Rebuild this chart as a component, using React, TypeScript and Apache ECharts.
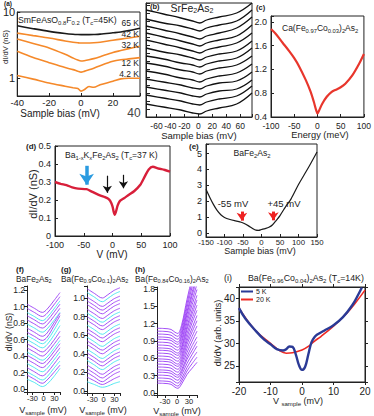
import React, { useEffect, useRef } from 'react';
import * as echarts from 'echarts';

const FONT = "'Liberation Sans', Arial, sans-serif";
const INK = '#222';
const ORANGE = '#f5892a';
const PURPLE = '#9a3cf5';
const CYAN = '#3fe3ee';

// (a) SmFeAsO0.8F0.2
const aBias = [-40, -30, -20, -10, -5, -2, 0, 2, 5, 8, 12, 20, 25, 30, 37];
const aLabels = ['65 K', '42 K', '32 K', '12 K', '4.2 K'];
const a65 = [6.2, 5.6, 5.1, 4.75, 4.62, 4.57, 4.55, 4.55, 4.56, 4.58, 4.63, 4.85, 5.0, 5.25, 5.7];
const a42 = [4.8, 4.4, 4.05, 3.65, 3.5, 3.43, 3.4, 3.4, 3.41, 3.43, 3.5, 3.75, 3.9, 4.05, 4.3];
const a32 = [3.9, 3.35, 2.87, 2.3, 2.02, 1.88, 1.82, 1.84, 1.9, 1.98, 2.12, 2.45, 2.62, 2.8, 3.05];
const a12 = [2.55, 2.05, 1.72, 1.45, 1.35, 1.28, 1.24, 1.27, 1.34, 1.42, 1.55, 1.8, 1.9, 1.96, 2.05];
const a4 = [1.1, 0.97, 0.85, 0.76, 0.72, 0.7, 0.64, 0.67, 0.75, 0.73, 0.8, 0.9, 0.98, 1.0, 1.0];

// (b) SrFe2As2 (offset curves)
const bBias = [-75, -50, -25, -8, 2, 12, 30, 55, 77];
const bCurves = [
  [107, 103, 99, 96, 94, 97, 100, 104, 114],
  [98, 94, 91, 88, 86, 89, 92, 96, 107],
  [91, 87, 83, 80, 78, 81, 84, 89, 100],
  [84, 80, 76, 73, 71, 74, 77, 81, 92],
  [77, 73, 69, 66, 64, 67, 70, 74, 84],
  [69, 65, 62, 59, 57, 60, 63, 66, 76],
  [61, 58, 54, 52, 50, 53, 56, 59, 69],
  [54, 51, 47, 45, 43, 46, 49, 52, 61],
  [46, 43, 39, 37, 35, 38, 41, 44, 53],
  [38, 35, 32, 29, 28, 31, 34, 36, 45],
  [30, 27, 24, 21, 20, 23, 26, 28, 37],
  [22, 19, 16, 13, 12, 15, 18, 21, 31],
  [13, 10, 7, 4, 3, 6, 9, 13, 24],
];

// (c) Ca(Fe0.97Co0.03)2As2
const cEnergy = [-100, -90, -75, -60, -50, -40, -25, -15, -8, -3, 0, 3, 10, 20, 30, 40, 50, 60, 75, 90, 100];
const cValues = [1.88, 1.8, 1.65, 1.5, 1.39, 1.26, 1.02, 0.83, 0.66, 0.52, 0.46, 0.5, 0.62, 0.74, 0.82, 0.86, 0.9, 0.96, 1.1, 1.3, 1.46];

// (d) Ba1-xKxFe2As2
const dV = [-100, -90, -80, -70, -60, -45, -35, -25, -15, -8, -4, 0, 2, 4, 6, 9, 13, 20, 28, 38, 48, 56, 63, 70, 80, 90, 100];
const dValues = [0.3, 0.29, 0.283, 0.27, 0.263, 0.26, 0.245, 0.23, 0.218, 0.208, 0.195, 0.165, 0.135, 0.118, 0.135, 0.17, 0.195, 0.21, 0.228, 0.25, 0.283, 0.33, 0.37, 0.385, 0.375, 0.368, 0.358];

// (e) BaFe2As2
const eBias = [-150, -140, -130, -120, -110, -100, -85, -70, -55, -48, -35, -25, -15, -8, 0, 10, 20, 30, 40, 50, 65, 80, 100, 115, 130, 150];
const eValues = [2.75, 2.25, 1.8, 1.42, 1.15, 0.98, 0.85, 0.76, 0.68, 0.62, 0.45, 0.3, 0.18, 0.17, 0.22, 0.28, 0.36, 0.52, 0.8, 1.1, 1.65, 2.15, 3.05, 3.65, 4.25, 5.1];

// (f) BaFe2As2 stacked
const fBias = [-45, -25, -3, 10, 28, 45];
const fCurves = [
  [1.03, 0.98, 0.93, 0.97, 1.07, 1.17],
  [0.98, 0.93, 0.88, 0.92, 1.02, 1.12],
  [0.93, 0.88, 0.83, 0.87, 0.97, 1.07],
  [0.89, 0.84, 0.79, 0.83, 0.93, 1.03],
  [0.84, 0.79, 0.74, 0.78, 0.88, 0.98],
  [0.79, 0.74, 0.69, 0.73, 0.83, 0.93],
  [0.74, 0.69, 0.64, 0.68, 0.8, 0.92],
  [0.69, 0.64, 0.59, 0.63, 0.76, 0.89],
  [0.65, 0.6, 0.55, 0.59, 0.71, 0.84],
  [0.6, 0.55, 0.5, 0.54, 0.65, 0.77],
  [0.55, 0.5, 0.45, 0.49, 0.59, 0.7],
  [0.5, 0.45, 0.4, 0.44, 0.54, 0.64],
  [0.45, 0.4, 0.35, 0.39, 0.49, 0.59],
  [0.41, 0.36, 0.31, 0.35, 0.45, 0.55],
  [0.36, 0.31, 0.26, 0.3, 0.4, 0.5],
  [0.31, 0.26, 0.21, 0.25, 0.35, 0.45],
  [0.26, 0.21, 0.16, 0.2, 0.3, 0.4],
  [0.21, 0.16, 0.11, 0.15, 0.25, 0.34],
  [0.17, 0.12, 0.07, 0.11, 0.2, 0.29],
  [0.12, 0.08, 0.03, 0.06, 0.15, 0.25],
];
const fColors = ['p', 'p', 'c', 'p', 'p', 'c', 'p', 'p', 'c', 'c', 'p', 'p', 'c', 'p', 'p', 'c', 'p', 'c', 'p', 'c'];

// (g) Ba(Fe0.9Co0.1)2As2 stacked
const gBias = [-45, -25, -3, 10, 28, 45];
const gCurves = [
  [1.1, 1.05, 1.0, 1.03, 1.08, 1.11],
  [1.06, 1.01, 0.96, 0.99, 1.04, 1.07],
  [1.01, 0.96, 0.91, 0.94, 0.99, 1.02],
  [0.97, 0.92, 0.87, 0.9, 0.95, 0.98],
  [0.93, 0.88, 0.83, 0.86, 0.91, 0.94],
  [0.88, 0.83, 0.78, 0.81, 0.86, 0.89],
  [0.84, 0.79, 0.74, 0.77, 0.82, 0.85],
  [0.8, 0.75, 0.7, 0.73, 0.78, 0.81],
  [0.76, 0.71, 0.66, 0.69, 0.74, 0.77],
  [0.71, 0.66, 0.61, 0.64, 0.69, 0.72],
  [0.67, 0.62, 0.57, 0.6, 0.65, 0.68],
  [0.63, 0.58, 0.53, 0.56, 0.61, 0.64],
  [0.58, 0.53, 0.48, 0.51, 0.56, 0.59],
  [0.54, 0.49, 0.44, 0.47, 0.52, 0.55],
  [0.5, 0.45, 0.4, 0.43, 0.48, 0.51],
  [0.45, 0.4, 0.35, 0.38, 0.43, 0.46],
  [0.41, 0.36, 0.31, 0.34, 0.39, 0.42],
  [0.37, 0.32, 0.27, 0.3, 0.35, 0.38],
  [0.33, 0.28, 0.23, 0.26, 0.31, 0.34],
  [0.28, 0.23, 0.18, 0.21, 0.26, 0.29],
  [0.24, 0.19, 0.14, 0.17, 0.22, 0.25],
  [0.2, 0.15, 0.1, 0.13, 0.18, 0.21],
  [0.15, 0.11, 0.07, 0.09, 0.13, 0.16],
  [0.1, 0.07, 0.04, 0.05, 0.08, 0.1],
];
const gColors = ['p', 'c', 'p', 'p', 'p', 'p', 'c', 'p', 'p', 'c', 'p', 'p', 'c', 'p', 'p', 'c', 'p', 'p', 'c', 'p', 'p', 'p', 'p', 'c'];

// (h) Ba(Fe0.84Co0.16)2As2 stacked
const hBias = [-50, -30, -15, -5, 2, 12, 25, 38, 50];
const hCurves = [
  [1.12, 1.115, 1.1, 1.05, 1.03, 1.19, 1.62, 2.0, 2.33],
  [1.07, 1.065, 1.05, 1.0, 0.98, 1.14, 1.55, 1.92, 2.24],
  [1.02, 1.015, 1.0, 0.95, 0.93, 1.08, 1.48, 1.84, 2.14],
  [0.97, 0.965, 0.95, 0.9, 0.88, 1.03, 1.41, 1.75, 2.05],
  [0.93, 0.925, 0.91, 0.86, 0.84, 0.99, 1.36, 1.69, 1.98],
  [0.88, 0.875, 0.86, 0.81, 0.79, 0.93, 1.29, 1.61, 1.88],
  [0.83, 0.825, 0.81, 0.76, 0.74, 0.88, 1.22, 1.53, 1.79],
  [0.78, 0.775, 0.76, 0.71, 0.69, 0.82, 1.15, 1.44, 1.69],
  [0.74, 0.735, 0.72, 0.67, 0.65, 0.78, 1.1, 1.37, 1.61],
  [0.69, 0.685, 0.67, 0.62, 0.6, 0.73, 1.03, 1.29, 1.52],
  [0.64, 0.635, 0.62, 0.57, 0.55, 0.67, 0.96, 1.22, 1.43],
  [0.59, 0.585, 0.57, 0.52, 0.5, 0.62, 0.9, 1.13, 1.34],
  [0.55, 0.545, 0.53, 0.48, 0.46, 0.57, 0.84, 1.06, 1.25],
  [0.5, 0.495, 0.48, 0.43, 0.41, 0.52, 0.77, 0.98, 1.16],
  [0.45, 0.445, 0.43, 0.38, 0.36, 0.47, 0.7, 0.9, 1.07],
  [0.4, 0.395, 0.38, 0.33, 0.31, 0.41, 0.63, 0.82, 0.97],
  [0.36, 0.355, 0.34, 0.29, 0.27, 0.37, 0.58, 0.74, 0.89],
  [0.31, 0.305, 0.29, 0.24, 0.22, 0.32, 0.51, 0.67, 0.81],
  [0.26, 0.255, 0.24, 0.19, 0.17, 0.26, 0.44, 0.59, 0.71],
  [0.21, 0.205, 0.19, 0.14, 0.12, 0.21, 0.38, 0.51, 0.62],
  [0.17, 0.165, 0.15, 0.1, 0.08, 0.16, 0.32, 0.43, 0.53],
];

// (i) Ba(Fe0.96Co0.04)2As2
const iBias5K = [-20, -18, -15, -12, -10, -8, -6, -5, -4, -3, -2, -1, 0, 1, 2, 3, 4, 5, 7, 10, 13, 16, 18, 19];
const i5K = [37.8, 35.5, 33, 30.8, 29.8, 28.7, 28.4, 28.7, 29.3, 29.2, 27.6, 25.2, 24.1, 24.8, 27.5, 30.2, 31.4, 32, 32.8, 34, 35.8, 38.5, 41, 42.4];
const iBias20K = [-20, -15, -10, -7, -5, -3, 0, 2, 4, 6, 10, 14, 17, 20];
const i20K = [37.8, 33, 30, 28.3, 27.8, 27.9, 28.5, 29.3, 30.5, 31.5, 33.8, 36.5, 39, 41.8];

const zip = (xs: number[], ys: number[]) => xs.map((x, i) => [x, ys[i]]);

const fmt = (step: number, dec: number, zeroPlain = false) => (v: number) => {
  const r = v / step;
  if (Math.abs(r - Math.round(r)) > 1e-6) return '';
  if (Math.abs(v) < 1e-9) return zeroPlain ? '0' : (0).toFixed(dec);
  return v.toFixed(dec);
};

function axis(gi: number, min: number, max: number, o: any) {
  return {
    type: o.log ? 'log' : 'value',
    gridIndex: gi,
    min,
    max,
    position: o.position,
    interval: o.interval,
    splitNumber: o.splitNumber,
    splitLine: { show: false },
    axisLine: { show: true, onZero: false, lineStyle: { color: INK, width: 1 } },
    axisTick: { show: o.tick !== false, inside: !!o.inside, length: o.tickLen || 3, lineStyle: { color: INK } },
    axisLabel: {
      show: o.labels !== false,
      fontFamily: FONT,
      fontSize: o.size || 9,
      color: INK,
      margin: o.margin ?? 3,
      formatter: o.formatter,
      showMinLabel: true,
      showMaxLabel: true,
    },
  };
}

const RICH = (size: number) => ({
  s: {
    fontSize: Math.round(size * 0.68 * 10) / 10,
    fontFamily: FONT,
    fill: INK,
    verticalAlign: 'bottom',
    lineHeight: Math.round(size * 0.6),
  },
});

function txt(x: number, y: number, text: string, size: number, o: any = {}) {
  const align = o.align || 'left';
  return {
    type: 'text',
    x,
    y,
    rotation: o.rot || 0,
    silent: true,
    z: 100,
    style: {
      text,
      fontSize: size,
      fontFamily: FONT,
      fontWeight: o.bold ? 'bold' : 'normal',
      fill: o.fill || INK,
      align,
      verticalAlign: 'middle',
      textAlign: align,
      textVerticalAlign: 'middle',
      lineHeight: Math.round(size * 1.25),
      rich: RICH(size),
    },
  };
}

function line(gi: number, data: number[][], color: string, width: number, extra: any = {}) {
  return {
    type: 'line',
    xAxisIndex: gi,
    yAxisIndex: gi,
    data,
    showSymbol: false,
    symbol: 'none',
    smooth: 0.3,
    silent: true,
    lineStyle: { color, width },
    itemStyle: { color },
    ...extra,
  };
}

const box = { show: true, borderColor: INK, borderWidth: 1, backgroundColor: 'transparent' };

function buildOption() {
  const grids = [
    { left: 14, top: 12, width: 126, height: 84, ...box }, // a
    { left: 146, top: 3, width: 106, height: 114, ...box }, // b
    { left: 271, top: 16, width: 97, height: 101, ...box }, // c
    { left: 55, top: 146, width: 115, height: 90, ...box }, // d
    { left: 206, top: 144, width: 111, height: 93, ...box }, // e
    { left: 27, top: 286, width: 33, height: 106 }, // f
    { left: 87, top: 286, width: 33, height: 107 }, // g
    { left: 157, top: 287, width: 40, height: 108 }, // h
    { left: 239, top: 287, width: 126, height: 95, ...box }, // i
  ];

  const xAxis = [
    axis(0, -40, 37, { interval: 20, inside: true, size: 9.5, margin: 1, formatter: fmt(20, 0) }),
    axis(1, -75, 77, { splitNumber: 8, inside: true, size: 8.5, margin: 4, formatter: fmt(20, 0) }),
    axis(2, -100, 100, { interval: 50, inside: true, size: 8.5, margin: 4, formatter: fmt(50, 0) }),
    axis(3, -100, 100, { interval: 50, inside: true, size: 9, margin: 4, formatter: fmt(50, 0) }),
    axis(4, -150, 150, { interval: 50, inside: true, size: 7.8, margin: 1, formatter: fmt(50, 0) }),
    axis(5, -45, 45, { splitNumber: 3, size: 7.5, margin: 2, formatter: fmt(30, 0) }),
    axis(6, -45, 45, { splitNumber: 3, size: 7.5, margin: 2, formatter: fmt(30, 0) }),
    axis(7, -50, 50, { splitNumber: 3, size: 7.5, margin: 2, formatter: fmt(30, 0) }),
    axis(8, -20, 20, { interval: 10, size: 10, margin: 4, formatter: fmt(10, 0) }),
    axis(8, -20, 20, { interval: 10, position: 'top', labels: false }),
  ];

  const yAxis = [
    axis(0, 0.54, 10, {
      log: true,
      inside: true,
      size: 11,
      margin: 2,
      formatter: (v: number) => (Math.abs(v - 1) < 1e-6 ? '1' : Math.abs(v - 10) < 1e-6 ? '10' : ''),
    }),
    axis(1, 0, 114, { interval: 8, inside: true, tickLen: 4, labels: false }),
    axis(2, 0.4, 2.1, { interval: 0.4, inside: true, size: 9, margin: 4, formatter: fmt(0.4, 1) }),
    axis(3, 0, 0.5, { interval: 0.1, inside: true, size: 9, margin: 4, formatter: fmt(0.1, 1, true) }),
    axis(4, -0.25, 5.6, { splitNumber: 6, inside: true, size: 9, margin: 4, formatter: fmt(1, 0) }),
    axis(5, -0.036, 1.25, { splitNumber: 6, size: 8.5, margin: 2, formatter: fmt(0.2, 1) }),
    axis(6, -0.0215, 1.129, { splitNumber: 6, size: 8.5, margin: 2, formatter: fmt(0.2, 1) }),
    axis(7, -0.035, 1.834, { splitNumber: 6, size: 8.5, margin: 2, formatter: fmt(0.3, 1) }),
    axis(8, 21.4, 42.5, { splitNumber: 4, size: 10, margin: 4, formatter: fmt(5, 0) }),
    axis(8, 21.4, 42.5, { splitNumber: 4, position: 'right', labels: false }),
  ];

  const series: any[] = [];

  // (a)
  const aSets = [a65, a42, a32, a12, a4];
  aSets.forEach((ys, k) => {
    series.push(line(0, zip(aBias, ys), k === 0 ? '#1a1a1a' : ORANGE, 1.6));
  });

  // (b)
  bCurves.forEach((ys) => series.push(line(1, zip(bBias, ys), '#111', 1.3, { smooth: 0.4 })));

  // (c)
  series.push(line(2, zip(cEnergy, cValues), '#e8362c', 2.2));

  // (d)
  series.push(
    line(3, zip(dV, dValues), '#d81f3a', 2.4, {
      smooth: 0.25,
      markLine: {
        silent: true,
        animation: false,
        symbol: ['none', 'arrow'],
        symbolSize: 7,
        label: { show: false },
        emphasis: { disabled: true },
        data: [
          [
            { coord: [-45, 0.39], lineStyle: { color: '#2a9be0', width: 3.5, type: 'solid' } },
            { coord: [-45, 0.285], symbolSize: 11 },
          ],
          [
            { coord: [-9, 0.335], lineStyle: { color: '#111', width: 1.2, type: 'solid' } },
            { coord: [-9, 0.24], symbolSize: 7 },
          ],
          [
            { coord: [19, 0.34], lineStyle: { color: '#111', width: 1.2, type: 'solid' } },
            { coord: [19, 0.265], symbolSize: 7 },
          ],
        ],
      },
    })
  );

  // (e)
  series.push(
    line(4, zip(eBias, eValues), '#1a1a1a', 1.2, {
      smooth: 0.3,
      markLine: {
        silent: true,
        animation: false,
        symbol: ['none', 'arrow'],
        symbolSize: 8,
        label: { show: false },
        emphasis: { disabled: true },
        data: [
          [
            { coord: [-53, 1.35], lineStyle: { color: '#ee2222', width: 3, type: 'solid' } },
            { coord: [-53, 0.78] },
          ],
          [
            { coord: [32, 1.35], lineStyle: { color: '#ee2222', width: 3, type: 'solid' } },
            { coord: [32, 0.8] },
          ],
        ],
      },
    })
  );

  // (f)
  fCurves.forEach((ys, k) =>
    series.push(line(5, zip(fBias, ys), fColors[k] === 'c' ? CYAN : PURPLE, 0.9, { smooth: 0.35 }))
  );
  // (g)
  gCurves.forEach((ys, k) =>
    series.push(line(6, zip(gBias, ys), gColors[k] === 'c' ? CYAN : PURPLE, 0.9, { smooth: 0.35 }))
  );
  // (h)
  hCurves.forEach((ys) => series.push(line(7, zip(hBias, ys), PURPLE, 0.9, { smooth: 0.35 })));

  // (i)
  series.push(line(8, zip(iBias20K, i20K), '#ee2a24', 1.6, { name: '20 K', smooth: 0.4 }));
  series.push(line(8, zip(iBias5K, i5K), '#2b3a96', 2.4, { name: '5 K', smooth: 0.4 }));

  const graphic = [
    // (a)
    txt(4, 3, '(a)', 6.5, { bold: true }),
    txt(18, 20, 'SmFeAsO{s|0.8}F{s|0.2} (T{s|c}=45K)', 8.7),
    txt(139, 23, aLabels[0], 8.5, { align: 'right' }),
    txt(139, 34, aLabels[1], 8.5, { align: 'right' }),
    txt(139, 45, aLabels[2], 8.5, { align: 'right' }),
    txt(139, 63, aLabels[3], 8.5, { align: 'right' }),
    txt(139, 74, aLabels[4], 8.5, { align: 'right' }),
    txt(5, 47, 'dI/dV (nS)', 7.5, { align: 'center', rot: Math.PI / 2 }),
    txt(60, 113, 'Sample bias (mV)', 10, { align: 'center' }),
    txt(134, 113, '40', 12, { align: 'center', fill: '#444' }),
    // (b)
    txt(150, 6, '(b)', 7.5, { bold: true }),
    txt(192, 8, 'SrFe{s|2}As{s|2}', 10.5, { align: 'center' }),
    txt(199, 135, 'Sample bias (mV)', 9.5, { align: 'center' }),
    // (c)
    txt(256, 7, '(c)', 7.5, { bold: true }),
    txt(282, 28, 'Ca(Fe{s|0.97}Co{s|0.03}){s|2}As{s|2}', 8.5),
    txt(320, 134.5, 'Energy (meV)', 9.3, { align: 'center' }),
    // (d)
    txt(26, 146, '(d)', 8, { bold: true }),
    txt(65, 155, 'Ba{s|1-x}K{s|x}Fe{s|2}As{s|2} (T{s|c}=37 K)', 8.6),
    txt(33, 194, 'dI/dV (nS)', 11, { align: 'center', rot: Math.PI / 2 }),
    txt(112, 254, 'V (mV)', 10, { align: 'center' }),
    // (e)
    txt(189, 146, '(e)', 8, { bold: true }),
    txt(252, 153, 'BaFe{s|2}As{s|2}', 8.6, { align: 'center' }),
    txt(233, 203, '-55 mV', 9.5, { align: 'center' }),
    txt(284, 203, '+45 mV', 9.5, { align: 'center' }),
    txt(260, 251, 'Sample bias (mV)', 9, { align: 'center' }),
    // (f), (g), (h)
    txt(16, 269, '(f)', 8, { bold: true }),
    txt(16, 279, 'BaFe{s|2}As{s|2}', 8.3),
    txt(61, 269, '(g)', 8, { bold: true }),
    txt(61, 279, 'Ba(Fe{s|0.9}Co{s|0.1}){s|2}As{s|2}', 8.3),
    txt(135, 269, '(h)', 8, { bold: true }),
    txt(135, 279, 'Ba(Fe{s|0.84}Co{s|0.16}){s|2}As{s|2}', 8.3),
    txt(9, 332, 'dI/dV (nS)', 8.5, { align: 'center', rot: Math.PI / 2 }),
    txt(43, 410, 'V{s|sample} (mV)', 9, { align: 'center' }),
    txt(103, 410, 'V{s|sample} (mV)', 9, { align: 'center' }),
    txt(177, 411, 'V{s|sample} (mV)', 9, { align: 'center' }),
    // (i)
    txt(224, 278, '(i)', 9),
    txt(248, 278, 'Ba(Fe{s|0.96}Co{s|0.04}){s|2}As{s|2} (T{s|c}=14K)', 8.8),
    txt(218, 333, 'dI/dV (arb. units)', 9, { align: 'center', rot: Math.PI / 2 }),
    txt(298, 401, 'V {s|sample} (mV)', 9, { align: 'center' }),
  ];

  return {
    animation: false,
    backgroundColor: '#ffffff',
    grid: grids,
    xAxis,
    yAxis,
    series,
    graphic,
    legend: {
      data: ['5 K', '20 K'],
      left: 241,
      top: 288,
      orient: 'vertical',
      icon: 'rect',
      itemWidth: 12,
      itemHeight: 2,
      itemGap: 1,
      padding: 0,
      selectedMode: false,
      textStyle: { fontFamily: FONT, fontSize: 7, color: INK, padding: [0, 0, 0, -2] },
    },
  };
}

export default function App() {
  const ref = useRef<HTMLDivElement>(null);
  useEffect(() => {
    if (!ref.current) return;
    const chart = echarts.init(ref.current, undefined, { renderer: 'svg' });
    chart.setOption(buildOption() as any);
    return () => chart.dispose();
  }, []);
  return (
    <div
      ref={ref}
      style={{ position: 'fixed', left: 0, top: 0, width: 374, height: 416, background: '#fff' }}
    />
  );
}
